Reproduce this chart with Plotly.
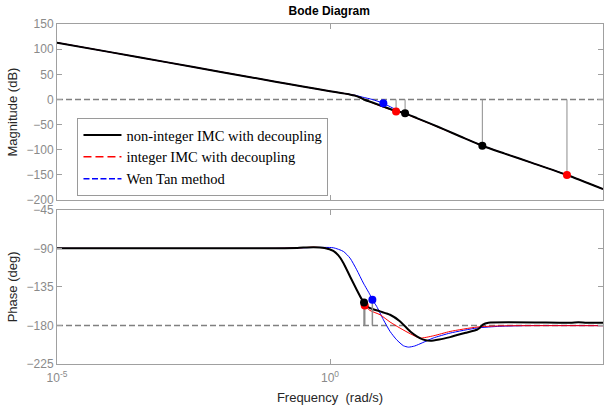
import numpy as np
import plotly.graph_objects as go

# ---- magnitude curves (log10 of frequency in rad/s, gain in dB) ----
mag_nonint_logw = [-5, -4, -3, -2, -1, -0.5, 0, 0.2, 0.35, 0.45, 0.55, 0.62, 0.75, 0.9, 1.05, 1.2,
                   1.375, 1.6, 1.85, 2.1, 2.4, 2.79, 3.2, 3.7, 4.34, 5]
mag_nonint_db = [113, 93.6, 74.2, 54.8, 35.4, 25.8, 16.5, 13, 10.2, 8, 4, 0, -5, -11, -17, -22.5,
                 -27.6, -37.5, -48.5, -60, -74, -91.9, -107.5, -126, -150, -178]

mag_int_logw = [-5, -4, -3, -2, -1, -0.5, 0, 0.2, 0.35, 0.45, 0.55, 0.636, 0.75, 0.9, 1.05, 1.21,
                1.375, 1.6, 1.85, 2.1, 2.4, 2.79, 3.2, 3.7, 4.34, 5]
mag_int_db = [113, 93.6, 74.2, 54.8, 35.4, 25.8, 16.5, 13, 10.2, 8, 4, 0, -5.5, -12, -18, -23.7,
              -28.5, -38, -49, -60.5, -74, -92, -107.5, -126, -150, -178]

mag_wen_logw = [-5, -4, -3, -2, -1, -0.5, 0, 0.2, 0.35, 0.45, 0.6, 0.776, 0.977, 1.15, 1.3, 1.5,
                1.6, 1.85, 2.1, 2.4, 2.79, 3.2, 3.7, 4.34, 5]
mag_wen_db = [113, 93.6, 74.2, 54.8, 35.4, 25.8, 16.5, 13, 10.4, 8.6, 4.5, 0, -7.7, -17, -24.5, -33,
              -37.5, -48.5, -60, -74, -91.9, -107.5, -126, -150, -178]

# ---- phase curves (degrees) ----
ph_nonint_logw = [-5, -1, -0.6, -0.3, -0.1, 0.06, 0.15, 0.245, 0.367, 0.489, 0.58, 0.623, 0.68,
                  0.733, 0.917, 1.1, 1.28, 1.47, 1.59, 1.71, 1.84, 2.0, 2.2, 2.51, 2.69, 2.74,
                  2.8, 2.9, 4.4, 4.55, 4.7, 5]
ph_nonint_deg = [-90, -90, -89.5, -88.6, -89.6, -93, -98, -107, -122.8, -138.3, -149.2, -153.2,
                 -157.5, -159.7, -163.6, -167.5, -175, -187, -192.7, -196.6, -198, -196.5, -193.6,
                 -188.2, -185, -183, -179, -176.8, -176.8, -176.2, -176.8, -176.8]

ph_int_logw = [-5, -1, -0.6, -0.3, -0.1, 0.06, 0.15, 0.245, 0.367, 0.489, 0.58, 0.636, 0.733,
               0.917, 1.1, 1.28, 1.47, 1.65, 1.9, 2.2, 2.69, 3.11, 5]
ph_int_deg = [-90, -90, -89.5, -88.6, -89.6, -93, -98, -107, -122.8, -138.3, -150, -156.7, -162.5,
              -167.5, -176, -183, -189.7, -194.7, -192, -187, -181.9, -180.5, -180.3]

ph_wen_logw = [-5, -1, -0.6, -0.3, 0.06, 0.245, 0.367, 0.489, 0.611, 0.733, 0.776, 0.855, 0.978,
               1.1, 1.22, 1.345, 1.436, 1.55, 1.7, 1.89, 2.2, 2.69, 3.11, 3.6, 5]
ph_wen_deg = [-90, -90, -89.5, -89, -89.3, -93.6, -101.4, -115, -130.5, -144.2, -150, -157.8,
              -173.3, -187, -196.7, -203.7, -205.3, -204, -200, -194.7, -188.9, -183, -181, -180.2,
              -180.2]

# ---- stability margin points ----
gm_logw = {"nonint": [1.375, 2.79], "int": [1.21, 4.34], "wen": [0.977]}
gm_db = {"nonint": [-27.6, -91.9], "int": [-23.7, -150], "wen": [-7.7]}
pm_logw = {"nonint": [0.623], "int": [0.636], "wen": [0.776]}
pm_deg = {"nonint": [-153.2], "int": [-156.7], "wen": [-150]}

names = {
    "nonint": "non-integer IMC with decoupling",
    "int": "integer IMC with decoupling",
    "wen": "Wen Tan method",
}
colors = {"nonint": "#000000", "int": "#ff0000", "wen": "#0000ff"}
widths = {"nonint": 2, "int": 1, "wen": 1}
legend_dash = {"nonint": "solid", "int": "8px,4px", "wen": "6px,2.5px"}


def w(logs):
    return [10 ** v for v in logs]


fig = go.Figure()

# legend entries
for key in ["nonint", "int", "wen"]:
    fig.add_trace(go.Scatter(
        x=[None], y=[None], mode="lines", name=names[key],
        line=dict(color=colors[key], width=1.5 if key != "nonint" else 2, dash=legend_dash[key]),
        xaxis="x", yaxis="y", showlegend=True))

curves = {
    "wen": (mag_wen_logw, mag_wen_db, ph_wen_logw, ph_wen_deg),
    "int": (mag_int_logw, mag_int_db, ph_int_logw, ph_int_deg),
    "nonint": (mag_nonint_logw, mag_nonint_db, ph_nonint_logw, ph_nonint_deg),
}
for key in ["wen", "int", "nonint"]:
    mlw, mdb, plw, pdeg = curves[key]
    fig.add_trace(go.Scatter(x=w(mlw), y=mdb, mode="lines", showlegend=False,
                             line=dict(color=colors[key], width=widths[key], shape="spline", smoothing=0.6),
                             xaxis="x", yaxis="y", hoverinfo="skip"))
    fig.add_trace(go.Scatter(x=w(plw), y=pdeg, mode="lines", showlegend=False,
                             line=dict(color=colors[key], width=widths[key], shape="spline", smoothing=0.6),
                             xaxis="x2", yaxis="y2", hoverinfo="skip"))

# margin stems
for key in ["wen", "int", "nonint"]:
    sx, sy = [], []
    for lw, db in zip(gm_logw[key], gm_db[key]):
        sx += [10 ** lw, 10 ** lw, None]
        sy += [0, db, None]
    fig.add_trace(go.Scatter(x=sx, y=sy, mode="lines", showlegend=False,
                             line=dict(color="#8c8c8c", width=1), xaxis="x", yaxis="y"))
    px_, py_ = [], []
    for lw, dg in zip(pm_logw[key], pm_deg[key]):
        px_ += [10 ** lw, 10 ** lw, None]
        py_ += [-180, dg, None]
    fig.add_trace(go.Scatter(x=px_, y=py_, mode="lines", showlegend=False,
                             line=dict(color="#8c8c8c", width=1.5), xaxis="x2", yaxis="y2"))

# margin markers
for key in ["wen", "int", "nonint"]:
    fig.add_trace(go.Scatter(x=w(gm_logw[key]), y=gm_db[key], mode="markers", showlegend=False,
                             marker=dict(color=colors[key], size=8, line=dict(width=0)),
                             xaxis="x", yaxis="y"))
for key in ["wen", "int", "nonint"]:
    fig.add_trace(go.Scatter(x=w(pm_logw[key]), y=pm_deg[key], mode="markers", showlegend=False,
                             marker=dict(color=colors[key], size=8, line=dict(width=0)),
                             xaxis="x2", yaxis="y2"))

# reference lines at 0 dB and -180 deg
fig.add_shape(type="line", xref="x domain", yref="y", x0=0, x1=1, y0=0, y1=0,
              line=dict(color="#808080", width=1.5, dash="6px,3px"), layer="below")
fig.add_shape(type="line", xref="x2 domain", yref="y2", x0=0, x1=1, y0=-180, y1=-180,
              line=dict(color="#808080", width=1.5, dash="6px,3px"), layer="below")

axis_col = "#a0a0a0"
tick_font = dict(family="Liberation Sans, Arial, sans-serif", size=12, color="#8a8a8a")
title_font = dict(family="Liberation Sans, Arial, sans-serif", size=13, color="#262626")

xcommon = dict(type="log", range=[-5, 5], showline=True, linecolor=axis_col, linewidth=1,
               mirror="ticks", ticks="inside", ticklen=5, tickcolor=axis_col,
               tickvals=[1e-5, 1, 1e5], showgrid=False, zeroline=False, tickfont=tick_font)
ycommon = dict(showline=True, linecolor=axis_col, linewidth=1, mirror="ticks", ticks="inside",
               ticklen=5, tickcolor=axis_col, showgrid=False, zeroline=False, tickfont=tick_font,
               title_font=title_font)

fig.update_layout(
    width=612, height=412,
    margin=dict(l=57, r=9, t=24, b=48),
    paper_bgcolor="white", plot_bgcolor="white",
    title=dict(text="<b>Bode Diagram</b>", x=0.538, xanchor="center", y=0.974, yanchor="middle",
               font=dict(family="Liberation Sans, Arial, sans-serif", size=12, color="#000000")),
    xaxis=dict(**xcommon, anchor="y", showticklabels=False, domain=[0, 1]),
    xaxis2=dict(**xcommon, anchor="y2", matches="x", domain=[0, 1], ticklabelstandoff=3,
                ticktext=["10<sup>-5</sup>", "10<sup>0</sup>", "10<sup>5</sup>"],
                title=dict(text="Frequency  (rad/s)", font=title_font, standoff=8)),
    yaxis=dict(**ycommon, domain=[0.482, 1], range=[-200, 150],
               tickvals=[-200, -150, -100, -50, 0, 50, 100, 150],
               title=dict(text="Magnitude (dB)", standoff=6)),
    yaxis2=dict(**ycommon, domain=[0, 0.4535], range=[-225, -45],
                tickvals=[-225, -180, -135, -90, -45],
                title=dict(text="Phase (deg)", standoff=6)),
    legend=dict(x=0.0375, y=0.7235, xanchor="left", yanchor="top",
                bgcolor="white", bordercolor="#9a9a9a", borderwidth=1,
                font=dict(family="Liberation Serif, Times New Roman, serif", size=14.5, color="#000000"),
                itemwidth=38),
    showlegend=True,
)

fig.write_html("out.html")
